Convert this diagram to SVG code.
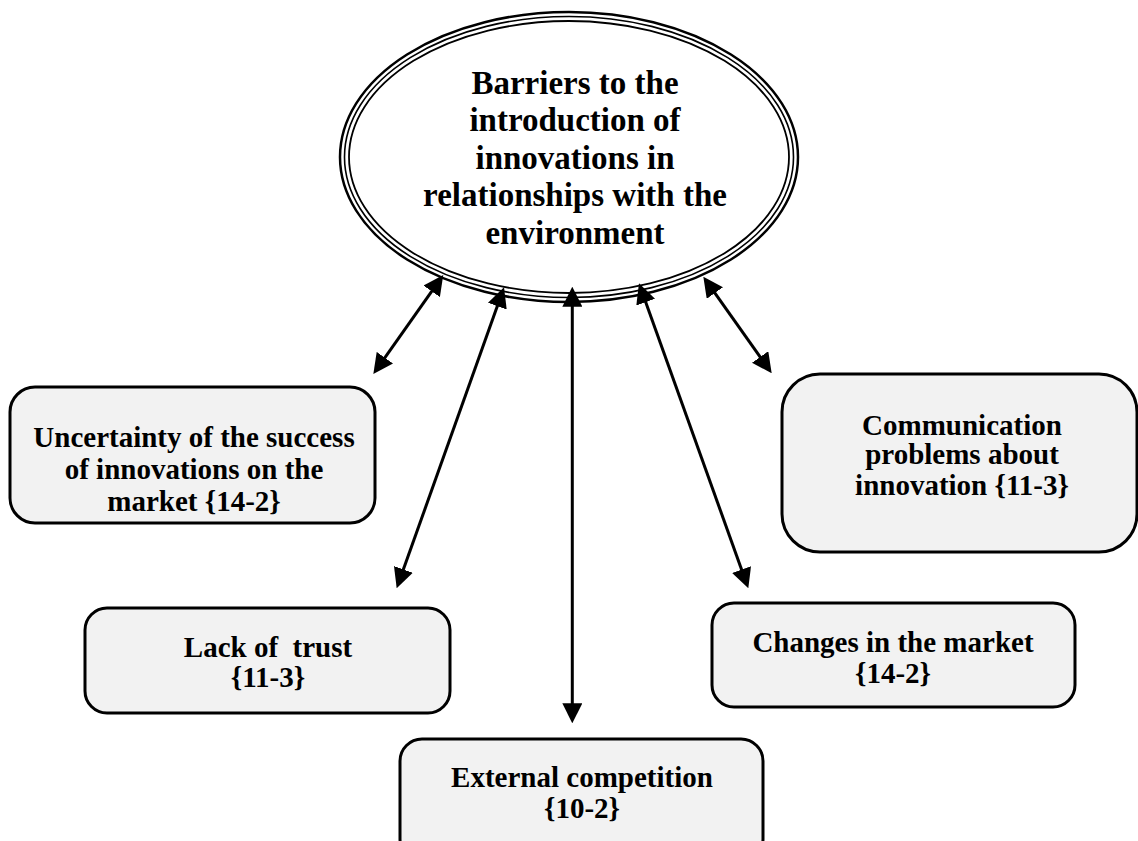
<svg xmlns="http://www.w3.org/2000/svg" width="1138" height="841" viewBox="0 0 1138 841">
  <style>
    .box { fill: #f2f2f2; stroke: #000; stroke-width: 3; }
    .ring { fill: none; stroke: #000; }
    .lbl { font-family: "Liberation Serif", "Times New Roman", serif; font-weight: bold; font-size: 29px; fill: #000; text-anchor: middle; white-space: pre; }
    .title { font-size: 33px; }
    .link { stroke: #000; stroke-width: 3; fill: none; marker-start: url(#head); marker-end: url(#head); }
  </style>
  <defs>
    <marker id="head" markerUnits="userSpaceOnUse" markerWidth="20" markerHeight="20" refX="14" refY="10" orient="auto-start-reverse" viewBox="0 0 20 20">
      <path d="M0,0 L20,10 L0,20 z" fill="#000"/>
    </marker>
  </defs>
  <rect width="1138" height="841" fill="#fff"/>

  <!-- central triple-ring ellipse -->
  <g id="barriers">
    <ellipse class="ring" cx="569" cy="157" rx="229" ry="145" stroke-width="2.5" fill="#fff"/>
    <ellipse class="ring" cx="569" cy="157" rx="224.5" ry="140.5" stroke-width="1.6"/>
    <ellipse class="ring" cx="569" cy="157" rx="220" ry="136" stroke-width="1.8"/>
    <text class="lbl title" x="575" y="94">Barriers to the</text>
    <text class="lbl title" x="575" y="131">introduction of</text>
    <text class="lbl title" x="575" y="168.5">innovations in</text>
    <text class="lbl title" x="575" y="206">relationships with the</text>
    <text class="lbl title" x="575" y="243.5">environment</text>
  </g>

  <g id="uncertainty">
    <rect class="box" x="10" y="387" width="365" height="136" rx="25"/>
    <text class="lbl" x="194" y="447">Uncertainty of the success</text>
    <text class="lbl" x="194" y="479">of innovations on the</text>
    <text class="lbl" x="194" y="511">market {14-2}</text>
  </g>

  <g id="communication">
    <rect class="box" x="782" y="374" width="355" height="178" rx="38"/>
    <text class="lbl" x="962" y="435">Communication</text>
    <text class="lbl" x="962" y="464">problems about</text>
    <text class="lbl" x="962" y="495">innovation {11-3}</text>
  </g>

  <g id="trust">
    <rect class="box" x="85" y="608" width="365" height="105" rx="22"/>
    <text class="lbl" x="268" y="657">Lack of  trust</text>
    <text class="lbl" x="268" y="687">{11-3}</text>
  </g>

  <g id="market">
    <rect class="box" x="712" y="603" width="363" height="104" rx="22"/>
    <text class="lbl" x="893" y="652">Changes in the market</text>
    <text class="lbl" x="893" y="683">{14-2}</text>
  </g>

  <g id="competition">
    <rect class="box" x="400" y="739" width="363" height="122" rx="22"/>
    <text class="lbl" x="582" y="787">External competition</text>
    <text class="lbl" x="582" y="818">{10-2}</text>
  </g>

  <!-- two-headed connectors between the ellipse and each box -->
  <g id="connectors">
    <line class="link" x1="439.8" y1="279.9" x2="376.8" y2="369.1"/>
    <line class="link" x1="502.0" y1="293.0" x2="398.7" y2="582.6"/>
    <line class="link" x1="572.3" y1="292.7" x2="572.3" y2="717.3"/>
    <line class="link" x1="641.0" y1="289.0" x2="746.3" y2="582.7"/>
    <line class="link" x1="706.8" y1="281.6" x2="768.2" y2="368.4"/>
  </g>
</svg>
